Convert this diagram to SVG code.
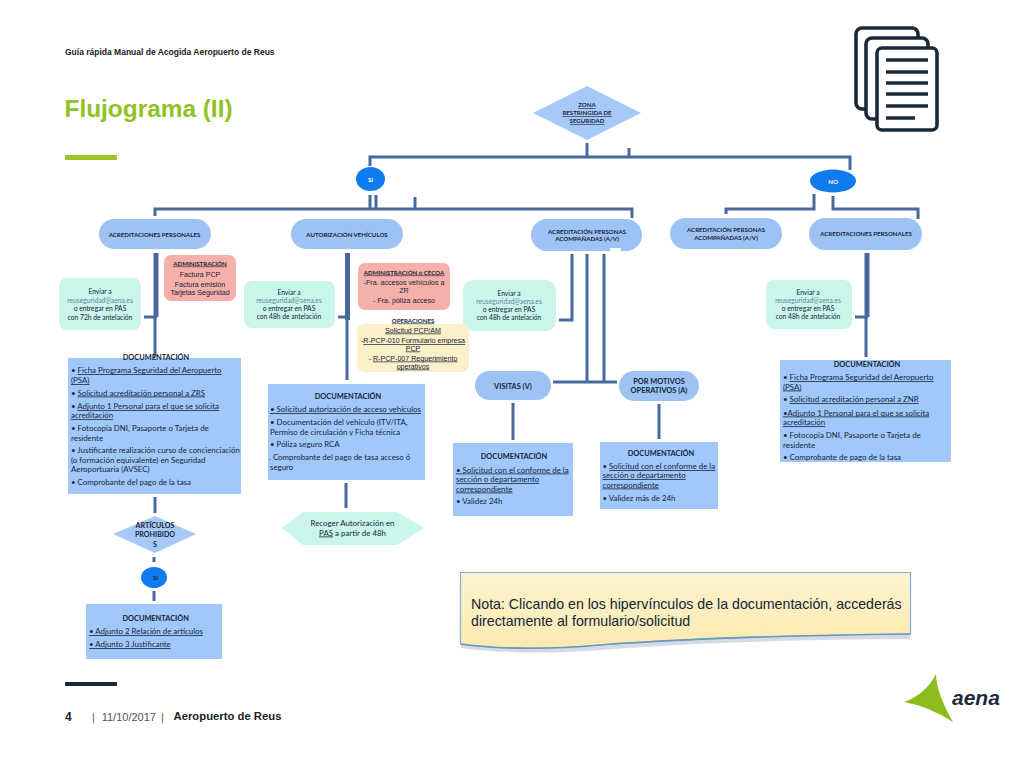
<svg xmlns="http://www.w3.org/2000/svg" width="1024" height="768" viewBox="0 0 1024 768">
<style>
text{font-family:"Lato","Carlito","Liberation Sans",sans-serif;fill:#15243a}
.a{font-family:"Liberation Sans",Arial,sans-serif}
.m{text-anchor:middle}
.b{font-weight:700}
.u{text-decoration:underline}
.d{font-size:7.9px}
.t{font-size:7.400px;font-weight:700;text-anchor:middle}
.e{font-size:6.700px;text-anchor:middle}
.p{font-size:6.100px;font-weight:700;text-anchor:middle}
.o{font-size:7.100px;font-family:"Liberation Sans",Arial,sans-serif;text-anchor:middle}
.l{fill:#5a8a9a}
.pill{fill:#9dc3f4}
.doc{fill:#a1c8fb}
.teal{fill:#c9f5ea}
.red{fill:#f5b0aa}
.yel{fill:#fcf0c9}
.oval{fill:#0f7bef}
.c path{fill:none;stroke:#47699f;stroke-width:3}
.c path.k{stroke-width:5}
.ic{fill:#fff;stroke:#1b2a38;stroke-width:3.600}
.il{stroke:#1b2a38;stroke-width:3.400}
</style>
<defs>
<linearGradient id="n" x1="0" y1="0" x2="0" y2="1"><stop offset="0" stop-color="#fdf4ce"/><stop offset="1" stop-color="#fbeab0"/></linearGradient>
</defs>
<rect width="1024" height="768" fill="#fff"/>

<g id="header">
<text class="a b" x="65" y="54.500" font-size="8.500" style="fill:#222">Guía rápida Manual de Acogida Aeropuerto de Reus</text>
<text class="a b" x="64.500" y="117" font-size="24.400" style="fill:#8fc31f">Flujograma (II)</text>
<rect x="65" y="155" width="52" height="5" fill="#9cc42b"/>
</g>
<g id="icon-documents">
<rect class="ic" x="856" y="28" width="62" height="81" rx="6"/>
<rect class="ic" x="866" y="38" width="62" height="81" rx="6"/>
<rect class="ic" x="877" y="48" width="60" height="82" rx="5"/>
<path class="il" d="M886 60H928M886 72H928M886 83H928M886 94H928M886 106H928M886 118H915"/>
</g>

<g id="connectors" class="c">
<path d="M587 143V157M629 148V157M370 166V157H850V170"/>
<path d="M370 195V209M376 195V209M415 197V209M155 216V209H632V218"/>
<path d="M814 194V209H726V214M833 196V209H918V219"/>
<path class="k" d="M156 253V317"/><path d="M155 317V357M144 317H157"/>
<path d="M155 497V513M154 557V562M154 591V601"/>
<path class="k" d="M347.500 253V320"/><path d="M347 320V380M338 317H347M346 483V508"/>
<path d="M572 254V320H559M587 254V382M604 254V382M553 382H617M513 403V440M659 404V439"/>
<path class="k" d="M867 253V317"/><path d="M866 317V357M855 317H868"/>
</g>

<g id="n-zona"><polygon points="533,113 587,86 641,113 587,140" fill="#a6c9f7"/>
<text class="p u" x="587" y="107">ZONA</text>
<text class="p u" x="587" y="115">RESTRINGIDA DE</text>
<text class="p u" x="587" y="123">SEGURIDAD</text></g>
<g id="n-si"><ellipse class="oval" cx="370.500" cy="179" rx="14.500" ry="12"/><text class="p" x="370.500" y="181.500" style="fill:#fff">SI</text></g>
<g id="n-no"><ellipse class="oval" cx="833" cy="181" rx="23" ry="11.500"/><text class="p" x="833" y="183.500" style="fill:#fff">NO</text></g>

<g id="n-acred-si"><rect class="pill" x="99" y="219" width="112" height="30" rx="15"/><text class="p" x="154.500" y="236.500">ACREDITACIONES PERSONALES</text></g>
<g id="n-auto"><rect class="pill" x="291" y="219" width="112" height="30" rx="15"/><text class="p" x="347" y="236.500">AUTORIZACIÓN VEHÍCULOS</text></g>
<g id="n-acomp-si"><rect class="pill" x="531" y="219" width="111" height="32" rx="16"/><rect x="610" y="248" width="11" height="4" fill="#fff"/><text class="p" x="587" y="233.500">ACREDITACIÓN PERSONAS</text><text class="p" x="587" y="241.200">ACOMPAÑADAS (A/V)</text></g>
<g id="n-acomp-no"><rect class="pill" x="670" y="218" width="112" height="31" rx="15.500"/><text class="p" x="726" y="231.800">ACREDITACIÓN PERSONAS</text><text class="p" x="726" y="239.800">ACOMPAÑADAS (A/V)</text></g>
<g id="n-acred-no"><rect class="pill" x="809" y="218" width="113" height="32" rx="16"/><text class="p" x="866" y="236">ACREDITACIONES PERSONALES</text></g>

<g id="n-envio-1"><rect class="teal" x="59" y="278" width="82" height="52" rx="8"/>
<text class="e" x="100" y="293.500">Enviar a</text><text class="e l" x="100" y="302.500">reuseguridad@aena.es</text><text class="e" x="100" y="311">o entregar en PAS</text><text class="e" x="100" y="319.500">con 72h de antelación</text></g>
<g id="n-envio-2"><rect class="teal" x="244" y="281" width="91" height="47" rx="8"/>
<text class="e" x="289" y="294.500">Enviar a</text><text class="e l" x="289" y="302.500">reuseguridad@aena.es</text><text class="e" x="289" y="310.500">o entregar en PAS</text><text class="e" x="289" y="318.500">con  48h de antelación</text></g>
<g id="n-envio-3"><rect class="teal" x="463" y="280" width="93" height="51" rx="10"/>
<text class="e" x="509" y="296.200">Enviar a</text><text class="e l" x="509" y="303.800">reuseguridad@aena.es</text><text class="e" x="509" y="311.800">o entregar en PAS</text><text class="e" x="509" y="319.800">con 48h de antelación</text></g>
<g id="n-envio-4"><rect class="teal" x="766" y="280" width="86" height="49" rx="8"/>
<text class="e" x="808" y="295.200">Enviar a</text><text class="e l" x="808" y="302.800">reuseguridad@aena.es</text><text class="e" x="808" y="310.800">o entregar en PAS</text><text class="e" x="808" y="318.500">con 48h de antelación</text></g>

<g id="n-admin-1"><rect class="red" x="164" y="255" width="72" height="46" rx="7"/>
<text class="p u" x="200" y="265.500">ADMINISTRACIÓN</text><text class="o" x="200" y="276.500">Factura PCP</text><text class="o" x="200" y="286.500">Factura emisión</text><text class="o" x="200" y="294.500">Tarjetas Seguridad</text></g>
<g id="n-admin-2"><rect class="red" x="358" y="263" width="92" height="47" rx="7"/>
<text class="p u" x="404" y="274.500">ADMINISTRACIÓN ó CECOA</text><text class="o" x="404" y="285.200">-Fra. accesos vehículos a</text><text class="o" x="404" y="292.500">ZR</text><text class="o" x="404" y="302.500">- Fra. póliza acceso</text></g>
<g id="n-operaciones"><rect class="yel" x="357" y="324" width="112" height="48" rx="8"/>
<text class="p u" x="413" y="322.500">OPERACIONES</text>
<text class="o u" x="413" y="332.500">Solicitud PCP/AM</text>
<text class="o" x="413" y="343.200">-<tspan class="u">R-PCP-010 Formulario empresa</tspan></text><text class="o u" x="413" y="350.500">PCP</text>
<text class="o" x="413" y="360.500">- <tspan class="u">R-PCP-007 Requerimiento</tspan></text><text class="o u" x="413" y="368.500">operativos</text></g>

<g id="n-visitas"><rect class="pill" x="475" y="371" width="76" height="29" rx="14.500"/><text class="t" x="513" y="388.500">VISITAS (V)</text></g>
<g id="n-motivos"><rect class="pill" x="619" y="371" width="80" height="30" rx="15"/><text class="t" x="659" y="384">POR MOTIVOS</text><text class="t" x="659" y="393">OPERATIVOS (A)</text></g>

<g id="n-doc-1"><rect class="doc" x="68" y="358" width="173" height="136"/>
<text class="t" x="156" y="360">DOCUMENTACIÓN</text>
<text class="d" x="71" y="373">• <tspan class="u">Ficha Programa Seguridad del Aeropuerto</tspan></text>
<text class="d u" x="71" y="383">(PSA)</text>
<text class="d" x="71" y="395.500">• <tspan class="u">Solicitud acreditación personal a ZRS</tspan></text>
<text class="d" x="71" y="409">• <tspan class="u">Adjunto 1 Personal para el que se solicita</tspan></text>
<text class="d u" x="71" y="418">acreditación</text>
<text class="d" x="71" y="431">• Fotocopia DNI, Pasaporte o Tarjeta de</text>
<text class="d" x="71" y="440.500">residente</text>
<text class="d" x="71" y="453">• Justificante realización curso de concienciación</text>
<text class="d" x="71" y="463">(o formación equivalente) en Seguridad</text>
<text class="d" x="71" y="472">Aeroportuaria (AVSEC)</text>
<text class="d" x="71" y="485">• Comprobante del pago de la tasa</text></g>

<g id="n-doc-2"><rect class="doc" x="268" y="384" width="157" height="96"/>
<text class="t" x="348" y="399">DOCUMENTACIÓN</text>
<text class="d u" x="270" y="412">• Solicitud autorización de acceso vehículos</text>
<text class="d" x="270" y="425">• Documentación del vehículo (ITV/ITA,</text>
<text class="d" x="270" y="434.500">Permiso de circulación y Ficha técnica</text>
<text class="d" x="270" y="447">• Póliza seguro RCA</text>
<text class="d" x="269" y="460">. Comprobante del pago de tasa acceso ó</text>
<text class="d" x="270" y="469.500">seguro</text></g>

<g id="n-doc-3"><rect class="doc" x="453" y="443" width="120" height="73"/>
<text class="t" x="514" y="459">DOCUMENTACIÓN</text>
<text class="d u" x="456" y="472.500">• Solicitud con el conforme de la</text>
<text class="d u" x="456" y="482">sección o departamento</text>
<text class="d u" x="456" y="491.500">correspondiente</text>
<text class="d" x="456" y="504">• Validez 24h</text></g>

<g id="n-doc-4"><rect class="doc" x="600" y="442" width="118" height="67"/>
<text class="t" x="661" y="456">DOCUMENTACIÓN</text>
<text class="d" x="602.500" y="469">• <tspan class="u">Solicitud con el conforme de la</tspan></text>
<text class="d u" x="602.500" y="478">sección o departamento</text>
<text class="d u" x="602.500" y="487.500">correspondiente</text>
<text class="d" x="602.500" y="500.500">• Validez más de 24h</text></g>

<g id="n-doc-5"><rect class="doc" x="780" y="360" width="171" height="102"/>
<text class="t" x="867" y="367">DOCUMENTACIÓN</text>
<text class="d" x="783" y="380">• <tspan class="u">Ficha Programa Seguridad del Aeropuerto</tspan></text>
<text class="d u" x="783" y="389.500">(PSA)</text>
<text class="d" x="783" y="402">• <tspan class="u">Solicitud acreditación personal a ZNR</tspan></text>
<text class="d u" x="783" y="415.500">•Adjunto 1 Personal para el que se solicita</text>
<text class="d u" x="783" y="425">acreditación</text>
<text class="d" x="783" y="438">• Fotocopia DNI, Pasaporte o Tarjeta de</text>
<text class="d" x="783" y="447.500">residente</text>
<text class="d" x="783" y="460">• Comprobante de pago de la tasa</text></g>

<g id="n-recoger"><polygon class="teal" points="282,528 303,512 397,512 424,528 397,545 303,545"/>
<text class="d m" x="352.500" y="525.500">Recoger Autorización en</text>
<text class="d m" x="352.500" y="535.500"><tspan class="u">PAS</tspan> a partir de 48h</text></g>

<g id="n-articulos"><polygon points="113,534 155,516 196,534 155,553" fill="#a6c9f7"/>
<text class="t" x="155" y="527.500" style="font-size:7.100px">ARTÍCULOS</text><text class="t" x="155" y="537" style="font-size:7.100px">PROHIBIDO</text><text class="t" x="155" y="546.500" style="font-size:7.100px">S</text></g>
<g id="n-si-2"><ellipse class="oval" cx="154" cy="577.500" rx="13" ry="10.500"/><text class="p" x="155.500" y="579.500">SI</text></g>
<g id="n-doc-6"><rect class="doc" x="86" y="604" width="136" height="55"/>
<text class="t" x="155.700" y="621">DOCUMENTACIÓN</text>
<text class="d u" x="89" y="634">• Adjunto 2 Relación de artículos</text>
<text class="d u" x="89" y="647">• Adjunto 3 Justificante</text></g>

<g id="note">
<path d="M461 646Q520 654 600 648Q720 638 910 637" fill="none" stroke="#a9b8c6" stroke-width="4" opacity=".5"/>
<path d="M460.500 572.500H910.500V634Q720 636 600 645Q520 652 460.500 644Z" fill="url(#n)" stroke="#7eb1dc" stroke-width="1.200"/>
<path d="M460.500 644Q520 652 600 645Q720 636 910.500 634" fill="none" stroke="#6c97bd" stroke-width="1.600"/>
<text class="a" x="471" y="608.500" font-size="14.200">Nota: Clicando en los hipervínculos de la documentación, accederás</text>
<text class="a" x="471" y="626" font-size="14.200">directamente al formulario/solicitud</text>
</g>

<g id="footer">
<rect x="65" y="682" width="52" height="4" fill="#1c2b3a"/>
<text class="a b" x="65" y="720.800" font-size="12">4</text>
<text class="a" x="92" y="720.500" font-size="11" style="fill:#555">|</text>
<text class="a" x="101.700" y="720.500" font-size="11" style="fill:#555">11/10/2017</text>
<text class="a" x="161" y="720.500" font-size="11" style="fill:#555">|</text>
<text class="a b" x="173.500" y="720" font-size="11.300" style="fill:#222">Aeropuerto de Reus</text>
</g>
<g id="logo-aena">
<path d="M936 674Q936 692 953 722Q928 706 904 702Q926 694 936 674Z" fill="#8cbc1e"/>
<text class="a b" x="952" y="705" font-size="21" font-style="italic" style="fill:#1c2b3a">aena</text>
</g>
</svg>
